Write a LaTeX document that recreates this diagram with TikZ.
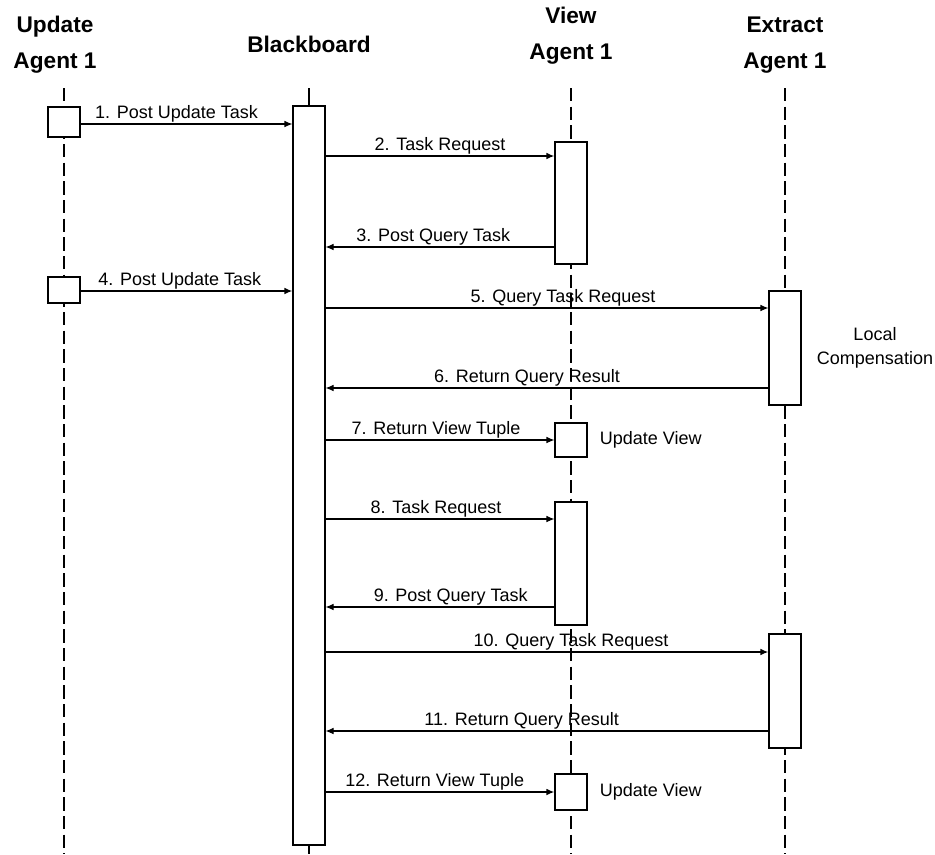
\documentclass[tikz,border=0pt]{standalone}
\usepackage{fontspec}
\setmainfont{Liberation Sans}
\usetikzlibrary{arrows.meta,positioning}

\begin{document}
\begin{tikzpicture}
    [x=0.75pt,y=-0.75pt,
    agent/.style={font=\bfseries\fontsize{17}{27}\selectfont,align=center,inner sep=0pt},
    lifeline/.style={line width=0.8pt,dash pattern=on 10pt off 4pt},
    act/.style={draw,fill=white,line width=0.8pt,minimum width=24pt,inner sep=0pt},
    msg/.style={-{Latex[length=6pt,width=5pt]},line width=0.8pt},
    heavy/.style={line width=1.3pt},
    lbl/.style={font=\fontsize{13.5}{16}\selectfont,anchor=base,yshift=4pt,inner sep=0pt},
    note/.style={font=\fontsize{13.5}{18}\selectfont,align=center,inner sep=0pt}]

\useasboundingbox (0,0) rectangle (935,854);

%agent headers
\node[agent] (upd) at (55,45) {Update\\Agent 1};
\node[agent] (board) at (309,44) {Blackboard};
\node[agent] (view) at (571,36) {View\\Agent 1};
\node[agent] (extr) at (785,45) {Extract\\Agent 1};

%lifelines
\draw[lifeline] (64,88) -- (64,854);
\draw[lifeline] (571,88) -- (571,854);
\draw[lifeline] (785,88) -- (785,854);
\draw[line width=0.8pt] (309,88) -- (309,854);

%activation boxes
\node[act, minimum height=22.5pt] (u1) at (64,122) {};
\node[act, minimum height=19.5pt] (u2) at (64,290) {};
\node[act, minimum height=554.25pt] (bb) at (309,475.5) {};
\node[act, minimum height=91.5pt] (v1) at (571,203) {};
\node[act, minimum height=85.5pt] (e1) at (785,348) {};
\node[act, minimum height=25.5pt] (v2) at (571,440) {};
\node[act, minimum height=92.25pt] (v3) at (571,563.5) {};
\node[act, minimum height=85.5pt] (e2) at (785,691) {};
\node[act, minimum height=27pt] (v4) at (571,792) {};

%message levels
\coordinate (m1) at (0,124);
\coordinate (m2) at (0,156);
\coordinate (m3) at (0,247);
\coordinate (m4) at (0,291);
\coordinate (m5) at (0,308);
\coordinate (m6) at (0,388);
\coordinate (m7) at (0,440);
\coordinate (m8) at (0,519);
\coordinate (m9) at (0,607);
\coordinate (m10) at (0,652);
\coordinate (m11) at (0,731);
\coordinate (m12) at (0,792);

%messages
\draw[msg] (u1.east |- m1) -- node[lbl,xshift=-7.5pt] {1. Post Update Task} (bb.west |- m1);
\draw[msg,heavy] (bb.east |- m2) -- node[lbl] {2. Task Request} (v1.west |- m2);
\draw[msg] (v1.west |- m3) -- node[lbl,xshift=-5pt] {3. Post Query Task} (bb.east |- m3);
\draw[msg,heavy] (u2.east |- m4) -- node[lbl,xshift=-5pt] {4. Post Update Task} (bb.west |- m4);
\draw[msg] (bb.east |- m5) -- node[lbl,xshift=12pt] {5. Query Task Request} (e1.west |- m5);
\draw[msg] (e1.west |- m6) -- node[lbl,xshift=-15pt] {6. Return Query Result} (bb.east |- m6);
\draw[msg] (bb.east |- m7) -- node[lbl,xshift=-3pt] {7. Return View Tuple} (v2.west |- m7);
\draw[msg] (bb.east |- m8) -- node[lbl,xshift=-3pt] {8. Task Request} (v3.west |- m8);
\draw[msg] (v3.west |- m9) -- node[lbl,xshift=8pt] {9. Post Query Task} (bb.east |- m9);
\draw[msg,heavy] (bb.east |- m10) -- node[lbl,xshift=18pt] {10. Query Task Request} (e2.west |- m10);
\draw[msg] (e2.west |- m11) -- node[lbl,xshift=-19pt] {11. Return Query Result} (bb.east |- m11);
\draw[msg,heavy] (bb.east |- m12) -- node[lbl,xshift=-4pt] {12. Return View Tuple} (v4.west |- m12);

%side notes
\node[note] (comp) at (875,348) {Local\\Compensation};
\node[note, right=9pt of v2] (uv1) {Update View};
\node[note, right=9pt of v4] (uv2) {Update View};

\end{tikzpicture}
\end{document}
